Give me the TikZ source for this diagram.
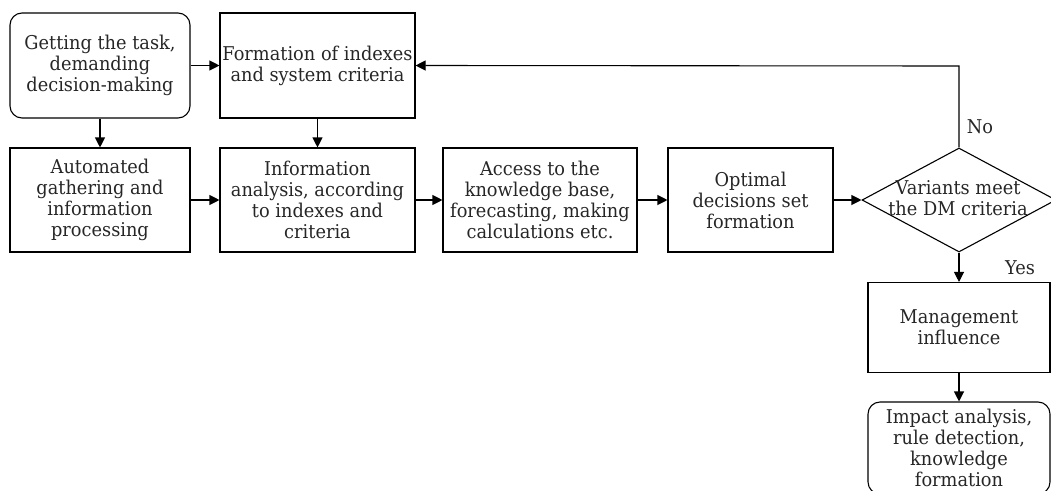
\documentclass[tikz,border=0pt]{standalone}
\usepackage{fontspec}
\setmainfont{DejaVu Serif}[FakeStretch=0.935]
\usetikzlibrary{shapes.geometric,arrows.meta}
\begin{document}
\begin{tikzpicture}[x=1pt,y=-1pt,
  every node/.style={font=\fontsize{19}{21}\selectfont, align=center, text=black!85},
  blk/.style={draw, line width=1.1pt, inner sep=0pt},
  rblk/.style={blk, rounded corners=12pt},
  conn/.style={line width=1.1pt, -{Triangle[length=10pt,width=10pt]}}]
\useasboundingbox (0,0) rectangle (1051,490);
\node[rblk, minimum width=180, minimum height=105] (task) at (100,65.5) {Getting the task,\\demanding\\decision-making};
\node[blk, minimum width=195, minimum height=105] (form) at (317.5,65.5) {Formation of indexes\\and system criteria};
\node[blk, minimum width=180, minimum height=104] (auto) at (100,200) {Automated\\gathering and\\information\\processing};
\node[blk, minimum width=195, minimum height=104] (info) at (317.5,200) {Information\\analysis, according\\to indexes and\\criteria};
\node[blk, minimum width=194, minimum height=104] (acc) at (540,200) {Access to the\\knowledge base,\\forecasting, making\\calculations etc.};
\node[blk, minimum width=165, minimum height=104] (opt) at (750.5,200) {Optimal\\decisions set\\formation};
\node[draw, diamond, line width=1.1pt, minimum width=194, minimum height=104, inner sep=0pt] (dm) at (959,200) {};
\node (dmtext) at (958,198) {Variants meet\\the DM criteria};
\node[blk, minimum width=182, minimum height=90] (mgmt) at (959,327.5) {Management\\influence};
\node[rblk, minimum width=182, minimum height=92] (imp) at (959,448) {Impact analysis,\\rule detection,\\knowledge\\formation};
\coordinate (corner) at (959,66);
\draw[conn] (task) -- (form);
\draw[conn] (task) -- (auto);
\draw[conn] (form) -- (info);
\draw[conn] (auto) -- (info);
\draw[conn] (info) -- (acc);
\draw[conn] (acc) -- (opt);
\draw[conn] (opt) -- (dm.west);
\draw[conn] (dm.north) -- (corner) -- (form.east);
\draw[conn] (dm.south) -- (mgmt.north);
\draw[conn] (mgmt) -- (imp);
\node at (980,127) {No};
\node at (1020,268) {Yes};
\end{tikzpicture}
\end{document}
